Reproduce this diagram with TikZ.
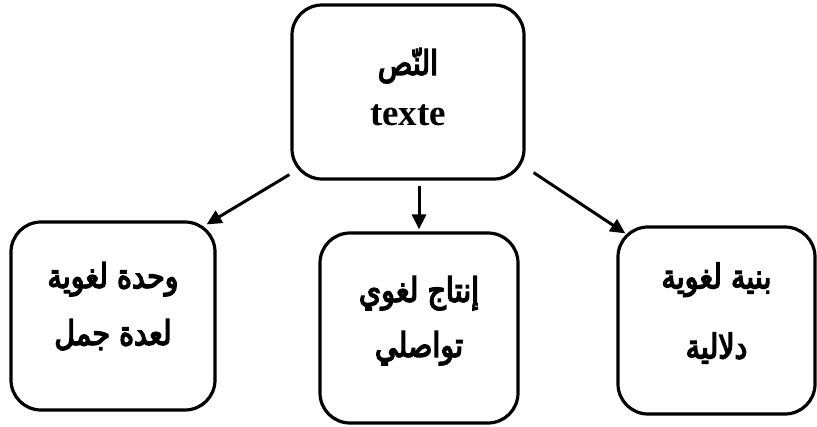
\documentclass[tikz,border=0pt]{standalone}
\usepackage{fontspec}
\usetikzlibrary{arrows.meta,calc}
\TeXXeTstate=1
\setmainfont{Liberation Serif}
\newfontfamily\arabicfont[Script=Arabic,FakeBold=4,FakeStretch=0.84]{DejaVu Sans}

\begin{document}
\begin{tikzpicture}[x=1pt,y=-1pt,
  box/.style={draw,line width=3.2pt,rounded corners=30pt,inner sep=0pt},
  link/.style={line width=3pt,-{Triangle[length=15pt,width=14pt]}},
  ar/.style={anchor=base,inner sep=0pt,font=\arabicfont\fontsize{34}{38}\selectfont},
  lat/.style={anchor=base,inner sep=0pt,font=\bfseries\fontsize{37}{40}\selectfont}]
\useasboundingbox[fill=white] (0,0) rectangle (817,426);

% boxes
\node[box,minimum width=232pt,minimum height=174pt] (top)   at (408,92)  {};
\node[box,minimum width=204pt,minimum height=188pt] (left)  at (113,316) {};
\node[box,minimum width=198pt,minimum height=190pt] (mid)   at (419,328) {};
\node[box,minimum width=197pt,minimum height=187pt] (right) at (716.5,320.5) {};

% labels
\node[ar]  (topA) at ($(top)+(0,-17)$) {\beginR النّص\endR};
\node[lat] (topL) at ($(top)+(0,33)$) {texte};
\node[ar]  (leftA) at ($(left)+(0,-28)$) {\beginR وحدة لغوية\endR};
\node[ar]  (leftB) at ($(left)+(0,29)$) {\beginR لعدة جمل\endR};
\node[ar]  (midA) at ($(mid)+(0,-26)$) {\beginR إنتاج لغوي\endR};
\node[ar]  (midB) at ($(mid)+(0,29)$) {\beginR تواصلي\endR};
\node[ar]  (rightA) at ($(right)+(0,-32)$) {\beginR بنية لغوية\endR};
\node[ar]  (rightB) at ($(right)+(0,38)$) {\beginR دلالية\endR};

% connectors
\draw[link] ($(top.south west)+(-1,-6)$) -- ($(left.north east)+(-10,4)$);
\draw[link] ($(mid.north |- top.south)+(0,5)$) -- ($(mid.north)+(0,-2)$);
\draw[link] ($(top.south east)+(8,-8)$) -- ($(right.north west)+(9,8)$);
\end{tikzpicture}
\end{document}
